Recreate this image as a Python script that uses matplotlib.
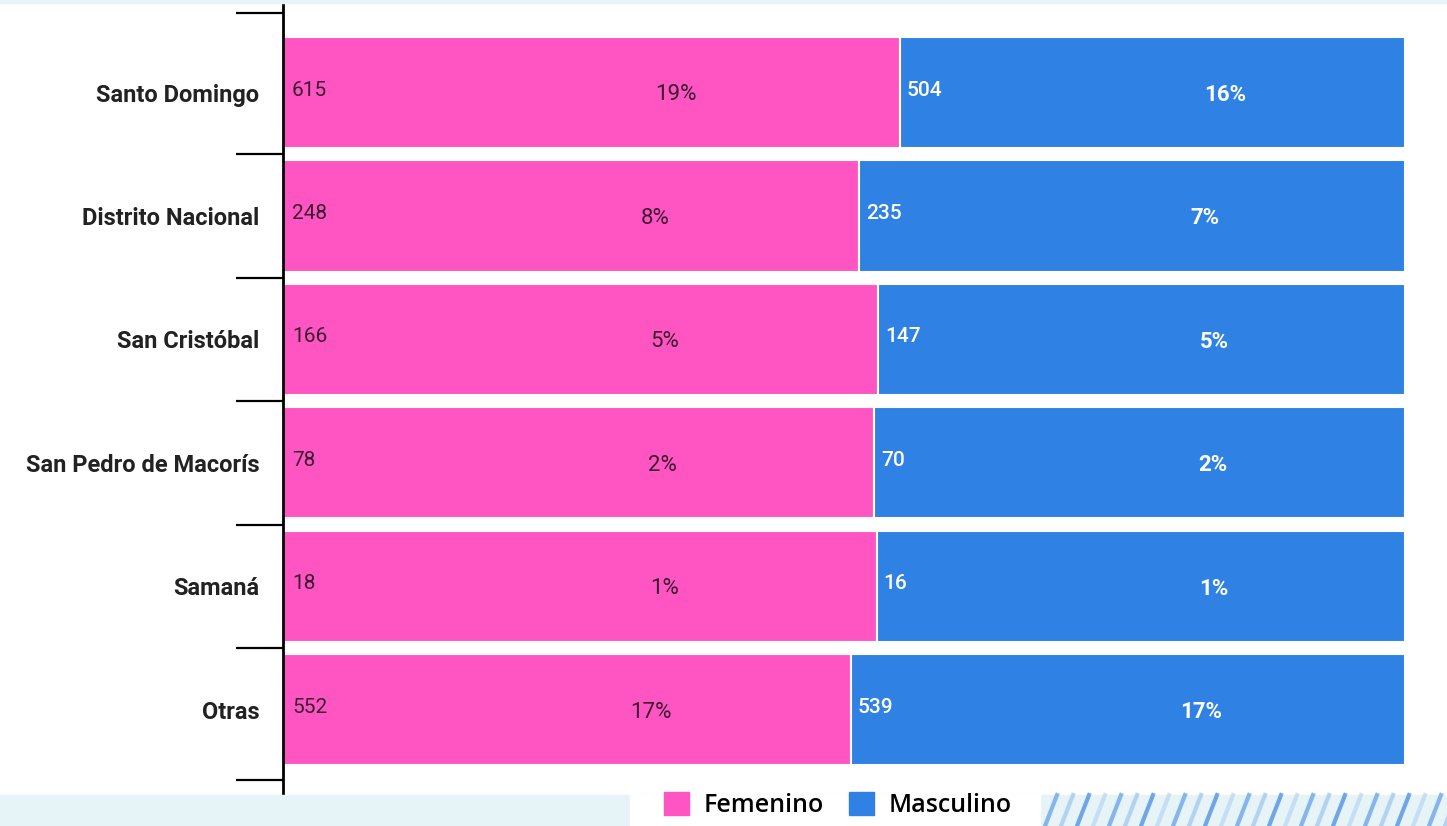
import matplotlib.pyplot as plt
import numpy as np
from matplotlib.patches import Rectangle

# datos
provincias = ['Santo Domingo', 'Distrito Nacional', 'San Cristóbal',
              'San Pedro de Macorís', 'Samaná', 'Otras']
femenino = [615, 248, 166, 78, 18, 552]
masculino = [504, 235, 147, 70, 16, 539]

rosa = '#ff55c3'
azul = '#2f82e3'

plt.rcParams['font.family'] = ['Roboto', 'DejaVu Sans']

fem = np.array(femenino, dtype=float)
mas = np.array(masculino, dtype=float)
total = fem.sum() + mas.sum()
fila = fem + mas
f_frac = fem / fila
m_frac = mas / fila

fig = plt.figure(figsize=(14.47, 8.26), dpi=100, facecolor='white')

# fondo decorativo (franja inferior y superior)
fig.patches.append(Rectangle((0, 0), 1, 31 / 826, transform=fig.transFigure,
                             color='#e6f3f7', zorder=0))
fig.patches.append(Rectangle((0, 1 - 3 / 826), 1, 3 / 826, transform=fig.transFigure,
                             color='#e6f3f7', zorder=0))
fig.patches.append(Rectangle((630 / 1447, 0), 410 / 1447, 31 / 826,
                             transform=fig.transFigure, color='white', zorder=0))
for k, x0 in enumerate(np.arange(1045, 1447, 16)):
    col = ['#5b9be8', '#9cc4f0', '#3f86e0', '#b8d6f4'][k % 4]
    fig.lines.append(plt.Line2D([x0 / 1447, (x0 + 12) / 1447], [0, 31 / 826],
                                transform=fig.transFigure, color=col,
                                lw=3, alpha=0.7, zorder=1))

ax = fig.add_axes([283 / 1447, 1 - 795 / 826, (1405 - 283) / 1447, 792 / 826])
ax.set_facecolor('none')

y = np.arange(len(provincias))
ax.barh(y, f_frac, height=0.9, color=rosa, edgecolor='white', linewidth=1.5)
ax.barh(y, m_frac, left=f_frac, height=0.9, color=azul, edgecolor='white', linewidth=1.5)

for i in range(len(provincias)):
    # valores absolutos
    ax.text(0.008, i - 0.02, f'{femenino[i]}', va='center', ha='left',
            fontsize=15, color='#3a1830')
    ax.text(f_frac[i] + 0.006, i - 0.02, f'{masculino[i]}', va='center', ha='left',
            fontsize=15, color='white', fontweight='medium')
    # porcentajes
    ax.text(f_frac[i] / 2 + 0.075, i + 0.02, f'{fem[i] / total * 100:.0f}%',
            va='center', ha='center', fontsize=16, color='#3a1830')
    ax.text(f_frac[i] + m_frac[i] / 2 + 0.065, i + 0.02, f'{mas[i] / total * 100:.0f}%',
            va='center', ha='center', fontsize=16, color='white', fontweight='bold')

ax.set_xlim(0, 1)
ax.set_ylim(5.69, -0.725)
ax.set_yticks(y)
ax.set_yticklabels(provincias, fontsize=17, fontweight='bold', color='#222222')
ax.set_yticks([-0.64, 0.5, 1.5, 2.5, 3.5, 4.5, 5.57], minor=True)
ax.tick_params(axis='y', which='major', length=0, pad=17)
ax.tick_params(axis='y', which='minor', length=34, width=1.6, color='black')
ax.set_xticks([])
for s in ['top', 'right', 'bottom']:
    ax.spines[s].set_visible(False)
ax.spines['left'].set_linewidth(2)

h1 = Rectangle((0, 0), 1, 1, color=rosa)
h2 = Rectangle((0, 0), 1, 1, color=azul)
fig.legend([h1, h2], ['Femenino', 'Masculino'], loc='center',
           bbox_to_anchor=(838 / 1447, 1 - 805 / 826), ncol=2, frameon=False,
           handlelength=1.0, handleheight=1.0, columnspacing=1.0,
           handletextpad=0.6, prop={'family': 'Open Sans', 'weight': 'semibold', 'size': 18})

fig.savefig('out.png', dpi=100, facecolor=fig.get_facecolor())
